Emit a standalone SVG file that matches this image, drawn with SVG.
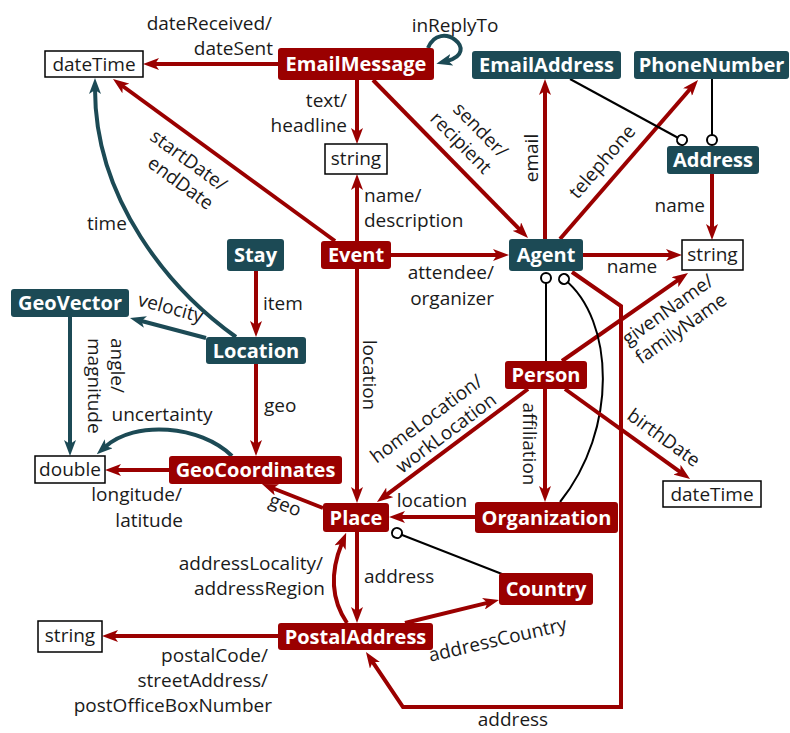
<svg xmlns="http://www.w3.org/2000/svg" width="790" height="733" viewBox="0 0 790 733">
<style>
.r{fill:none;stroke:#9a0000;stroke-width:4;marker-end:url(#ar)}
.t{fill:none;stroke:#1c4a55;stroke-width:4;marker-end:url(#at)}
.k{fill:none;stroke:#000;stroke-width:2;marker-end:url(#oc)}
.nr rect{fill:#9a0000}
.nt rect{fill:#1c4a55}
.nl{font-family:"Open Sans","Noto Sans",sans-serif;font-weight:bold;font-size:20px;fill:#fff;text-anchor:middle}
.bx rect{fill:#fff;stroke:#000;stroke-width:1.5}
.bt{font-family:"Open Sans","Noto Sans",sans-serif;font-size:19px;fill:#1a1a1a;text-anchor:middle}
.lb{font-family:"Open Sans","Noto Sans",sans-serif;font-size:19px;fill:#1a1a1a}
.e{text-anchor:end}.m{text-anchor:middle}
</style>
<defs>
<marker id="ar" markerUnits="userSpaceOnUse" markerWidth="16" markerHeight="12" viewBox="0 0 16 12" refX="5" refY="6" orient="auto"><path d="M0,0 L16,6 L0,12 L4,6 z" fill="#9a0000"/></marker>
<marker id="at" markerUnits="userSpaceOnUse" markerWidth="16" markerHeight="12" viewBox="0 0 16 12" refX="5" refY="6" orient="auto"><path d="M0,0 L16,6 L0,12 L4,6 z" fill="#1c4a55"/></marker>
<marker id="oc" markerUnits="userSpaceOnUse" markerWidth="14" markerHeight="14" viewBox="-7 -7 14 14" refX="0" refY="0" orient="auto"><circle r="5" fill="#fff" stroke="#000" stroke-width="2"/></marker>
</defs>

<g id="connectors">
<path class="r" d="M278 64 L154 64"/>
<path class="r" d="M357 80 L357 133"/>
<path class="r" d="M373 80 L520.3 230.1"/>
<path class="r" d="M545 239 L545 90"/>
<path class="r" d="M560 239 L690.8 88.3"/>
<path class="k" d="M570 79 L682 140"/>
<path class="k" d="M712 79 L712 140"/>
<path class="r" d="M712 174 L712 229"/>
<path class="r" d="M583 255 L671 255"/>
<path class="r" d="M357 241 L357 185"/>
<path class="r" d="M391 255 L498 255"/>
<path class="r" d="M335 241 L121.9 85.5"/>
<path class="r" d="M357 269 L357 492"/>
<path class="t" d="M70 317 L70 445"/>
<path class="r" d="M256 271 L256 326"/>
<path class="t" d="M206 338 L140.6 320.8"/>
<path class="t" d="M236 337 C170 290 95 200 95 89"/>
<path class="r" d="M256 364 L256 445"/>
<path class="t" d="M232 456 C200 425 135 420 105 447"/>
<path class="r" d="M169 470 L116 470"/>
<path class="r" d="M323 508 L272.2 488"/>
<path class="r" d="M528 389 L385.8 495.4"/>
<path class="r" d="M545 389 L545 491"/>
<path class="r" d="M562 361 L679 279.3"/>
<path class="k" d="M546 361 L546 278"/>
<path class="k" d="M560 502 C618 430 615 320 564 279"/>
<path class="r" d="M572 272 L621 306 L621 707 L403 707 L372.1 661.1"/>
<path class="r" d="M475 517 L400 517"/>
<path class="k" d="M502 574 L397 533"/>
<path class="r" d="M357 532 L357 612"/>
<path class="r" d="M347 623 C328 595 333 565 342 543"/>
<path class="r" d="M405 623 L488.3 602.6"/>
<path class="r" d="M278 636 L113 636"/>
<path class="r" d="M565 389 L681.1 472.6"/>
<path class="t" d="M428 48 C440 18 482 52 447 61"/>
</g>

<g id="edge-labels">
<text class="lb m" x="455" y="32">inReplyTo</text>
<text class="lb e" x="272" y="30">dateReceived/</text>
<text class="lb e" x="273" y="55">dateSent</text>
<text class="lb e" x="347" y="107">text/</text>
<text class="lb e" x="347" y="132">headline</text>
<g transform="translate(500,159) rotate(45.5)"><text class="lb e" x="0" y="0">sender/</text><text class="lb e" x="0" y="23">recipient</text></g>
<text class="lb m" transform="translate(538,158) rotate(-90)" x="0" y="0">email</text>
<text class="lb m" transform="translate(607,166) rotate(-49)" x="0" y="0">telephone</text>
<text class="lb e" x="705" y="212">name</text>
<text class="lb m" x="632" y="273">name</text>
<text class="lb" x="364" y="202">name/</text>
<text class="lb" x="364" y="227">description</text>
<text class="lb e" x="494" y="279">attendee/</text>
<text class="lb e" x="494" y="305">organizer</text>
<g transform="translate(221,192) rotate(36.2)"><text class="lb e" x="0" y="0">startDate/</text><text class="lb e" x="0" y="23">endDate</text></g>
<text class="lb" x="87" y="230">time</text>
<text class="lb" x="263" y="310">item</text>
<text class="lb m" transform="translate(169,314) rotate(15)" x="0" y="0">velocity</text>
<g transform="translate(111,338) rotate(90)"><text class="lb" x="0" y="0">angle/</text><text class="lb" x="0" y="23">magnitude</text></g>
<text class="lb m" transform="translate(363,375) rotate(90)" x="0" y="0">location</text>
<text class="lb" x="264" y="412">geo</text>
<text class="lb m" x="162" y="421">uncertainty</text>
<text class="lb e" x="182" y="501">longitude/</text>
<text class="lb e" x="183" y="527">latitude</text>
<text class="lb m" transform="translate(283,511) rotate(21)" x="0" y="0">geo</text>
<g transform="translate(484,384) rotate(-36.7)"><text class="lb e" x="0" y="0">homeLocation/</text><text class="lb e" x="0" y="23">workLocation</text></g>
<text class="lb m" transform="translate(523,444) rotate(90)" x="0" y="0">affiliation</text>
<g transform="translate(628,346) rotate(-35.5)"><text class="lb" x="0" y="0">givenName/</text><text class="lb" x="0" y="23">familyName</text></g>
<text class="lb m" transform="translate(660,443) rotate(36)" x="0" y="0">birthDate</text>
<text class="lb m" x="432" y="507">location</text>
<text class="lb" x="364" y="583">address</text>
<text class="lb e" x="323" y="570">addressLocality/</text>
<text class="lb e" x="325" y="595">addressRegion</text>
<text class="lb m" transform="translate(499,646) rotate(-13)" x="0" y="0">addressCountry</text>
<text class="lb e" x="268" y="662">postalCode/</text>
<text class="lb e" x="268" y="687">streetAddress/</text>
<text class="lb e" x="272" y="712">postOfficeBoxNumber</text>
<text class="lb m" x="513" y="726">address</text>
</g>

<g id="EmailMessage" class="nr"><rect x="278" y="48" width="156" height="32" rx="3"/><text class="nl" x="356" y="71">EmailMessage</text></g>
<g id="EmailAddress" class="nt"><rect x="472" y="51" width="149" height="28" rx="3"/><text class="nl" x="546.5" y="72">EmailAddress</text></g>
<g id="PhoneNumber" class="nt"><rect x="634" y="51" width="155" height="28" rx="3"/><text class="nl" x="711.5" y="72">PhoneNumber</text></g>
<g id="Address" class="nt"><rect x="667" y="146" width="92" height="28" rx="3"/><text class="nl" x="713" y="167">Address</text></g>
<g id="Agent" class="nt"><rect x="509" y="239" width="74" height="32" rx="3"/><text class="nl" x="546" y="262">Agent</text></g>
<g id="Event" class="nr"><rect x="321" y="241" width="70" height="28" rx="3"/><text class="nl" x="356" y="262">Event</text></g>
<g id="Stay" class="nt"><rect x="227" y="239" width="57" height="32" rx="3"/><text class="nl" x="255.5" y="262">Stay</text></g>
<g id="GeoVector" class="nt"><rect x="11" y="289" width="118" height="28" rx="3"/><text class="nl" x="70" y="310">GeoVector</text></g>
<g id="Location" class="nt"><rect x="206" y="337" width="100" height="27" rx="3"/><text class="nl" x="256" y="358">Location</text></g>
<g id="Person" class="nr"><rect x="505" y="361" width="82" height="28" rx="3"/><text class="nl" x="546" y="382">Person</text></g>
<g id="GeoCoordinates" class="nr"><rect x="169" y="456" width="173" height="28" rx="3"/><text class="nl" x="255.5" y="477">GeoCoordinates</text></g>
<g id="Place" class="nr"><rect x="323" y="503" width="66" height="29" rx="3"/><text class="nl" x="356" y="525">Place</text></g>
<g id="Organization" class="nr"><rect x="475" y="502" width="143" height="31" rx="3"/><text class="nl" x="546.5" y="525">Organization</text></g>
<g id="Country" class="nr"><rect x="499" y="573" width="94" height="32" rx="3"/><text class="nl" x="546" y="596">Country</text></g>
<g id="PostalAddress" class="nr"><rect x="278" y="623" width="155" height="27" rx="3"/><text class="nl" x="355.5" y="644">PostalAddress</text></g>

<g id="dateTime1" class="bx"><rect x="45" y="51" width="98" height="26"/><text class="bt" x="94" y="71">dateTime</text></g>
<g id="string1" class="bx"><rect x="325" y="144" width="62" height="30"/><text class="bt" x="356" y="165">string</text></g>
<g id="string2" class="bx"><rect x="682" y="240" width="61" height="30"/><text class="bt" x="712.5" y="261">string</text></g>
<g id="double" class="bx"><rect x="35" y="456" width="70" height="27"/><text class="bt" x="70" y="476">double</text></g>
<g id="dateTime2" class="bx"><rect x="663" y="481" width="98" height="26"/><text class="bt" x="712" y="501">dateTime</text></g>
<g id="string3" class="bx"><rect x="38" y="621" width="64" height="31"/><text class="bt" x="70" y="642">string</text></g>
</svg>
